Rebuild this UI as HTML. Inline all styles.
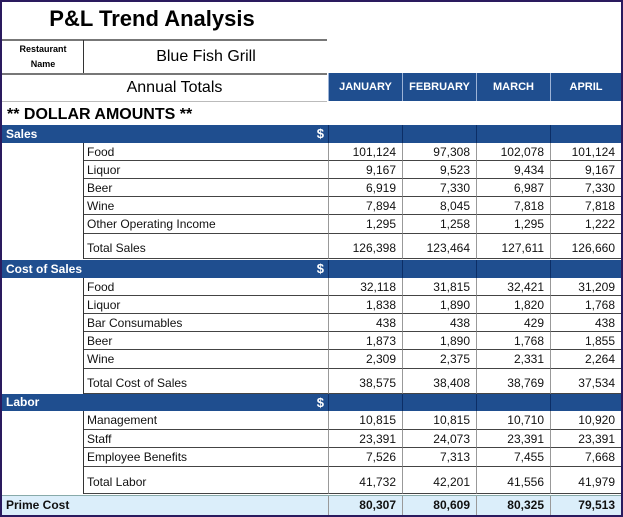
<!DOCTYPE html>
<html><head><meta charset="utf-8"><style>
body{margin:0;width:623px;height:517px;overflow:hidden;background:#fff;font-family:"Liberation Sans",sans-serif;}
#wrap{position:absolute;left:0;top:0;width:619px;height:513px;border:2px solid #2a1a5e;background:#fff;}
.a{position:absolute;box-sizing:border-box;white-space:nowrap;}
.hb{background:#1f4e8f;color:#fff;font-weight:bold;font-size:12px;}
.t{font-size:12px;color:#111;}
.n{text-align:right;padding-right:6px;font-size:12px;color:#111;}
</style></head><body>
<div id="wrap">
<div class="a" style="left:0;top:4px;width:300px;text-align:center;font-size:22px;font-weight:bold;">P&amp;L Trend Analysis</div>
<div class="a" style="left:0;top:37px;width:325px;height:2px;background:#777;"></div>
<div class="a" style="left:0;top:40px;width:82px;text-align:center;font-size:9px;font-weight:bold;line-height:15px;">Restaurant<br>Name</div>
<div class="a" style="left:81px;top:38px;width:1px;height:34px;background:#333;"></div>
<div class="a" style="left:82px;top:46px;width:244px;text-align:center;font-size:16px;">Blue Fish Grill</div>
<div class="a" style="left:0;top:71px;width:325px;height:2px;background:#777;"></div>
<div class="a" style="left:0;top:77px;width:345px;text-align:center;font-size:16px;">Annual Totals</div>
<div class="a" style="left:0;top:99px;width:325px;height:1px;background:#bbb;"></div>
<div class="a" style="left:5px;top:104px;font-size:16px;font-weight:bold;">** DOLLAR AMOUNTS **</div>
<div id="grid"></div>
</div>
<script>
const months=["JANUARY","FEBRUARY","MARCH","APRIL"];
const sections=["Sales","Cost of Sales","Labor"];
const salesItems=["Food","Liquor","Beer","Wine","Other Operating Income","Total Sales"];
const salesVals=[[101124,97308,102078,101124],[9167,9523,9434,9167],[6919,7330,6987,7330],[7894,8045,7818,7818],[1295,1258,1295,1222],[126398,123464,127611,126660]];
const cosItems=["Food","Liquor","Bar Consumables","Beer","Wine","Total Cost of Sales"];
const cosVals=[[32118,31815,32421,31209],[1838,1890,1820,1768],[438,438,429,438],[1873,1890,1768,1855],[2309,2375,2331,2264],[38575,38408,38769,37534]];
const laborItems=["Management","Staff","Employee Benefits","Total Labor"];
const laborVals=[[10815,10815,10710,10920],[23391,24073,23391,23391],[7526,7313,7455,7668],[41732,42201,41556,41979]];
const primeVals=[80307,80609,80325,79513];

const W=document.getElementById('wrap');
const colX=[326,400,474,548,619];
function box(name,l,t,w,h,cls,txt,css){
  const d=document.createElement('div');
  d.className='a '+(cls||'');
  
  
  d.style.cssText='left:'+l+'px;top:'+t+'px;width:'+w+'px;height:'+h+'px;line-height:'+h+'px;'+(css||'');
  if(txt!==undefined)d.textContent=txt;
  W.appendChild(d);return d;
}
const fmt=v=>v.toLocaleString('en-US');
box('month-header-band',326,71,293,28,'hb','');
months.forEach((m,i)=>{box('month-header-'+m.toLowerCase(),colX[i],71,colX[i+1]-colX[i],28,'hb',m,'text-align:center;border-left:1px solid #9db3d6;font-size:11px;');});
const groups=[[salesItems,salesVals,123,18,[18,18,18,18,19,25]],[cosItems,cosVals,258,18,[18,18,18,18,19,25]],[laborItems,laborVals,392,17,[19,18,19,27]]];
groups.forEach((g,gi)=>{
  const [items,vals,top,hh,hs]=g;
  box('section-header-'+gi,0,top,619,hh,'hb',sections[gi],'padding-left:4px;');
  box('section-dollar-'+gi,305,top,20,hh,'hb','$','text-align:right;padding-right:3px;font-size:13px;');
  for(let i=0;i<4;i++)box('section-band-divider',colX[i],top,1,hh,'','', 'background:#0c2e66;');
  let y=top+hh;
  box('section-left-blank',81,y,1,hs.reduce((a,b)=>a+b,0),'','','background:#333;');
  items.forEach((it,r)=>{
    const h=hs[r];const tot=r===items.length-1;
    box('row-label',82,y,244,h,'t',it,'padding-left:3px;border-bottom:1px solid #444;'+(tot?'line-height:'+(h+4)+'px;':''));
    vals[r].forEach((v,c)=>{
      box('value-cell',colX[c],y,colX[c+1]-colX[c],h,'n',fmt(v),'border-left:1px solid #999;border-bottom:1px solid #444;'+(tot?'line-height:'+(h+4)+'px;':''));
    });
    y+=h;
  });
});
box('prime-cost-row',0,493,619,20,'','','background:#dbeefa;border-top:1px solid #8aa;');
box('prime-cost-label',0,494,200,19,'t','Prime Cost','padding-left:4px;font-weight:bold;');
primeVals.forEach((v,c)=>{box('prime-cost-value',colX[c],494,colX[c+1]-colX[c],19,'n',fmt(v),'font-weight:bold;border-left:1px solid #999;');});
</script>
</body></html>
